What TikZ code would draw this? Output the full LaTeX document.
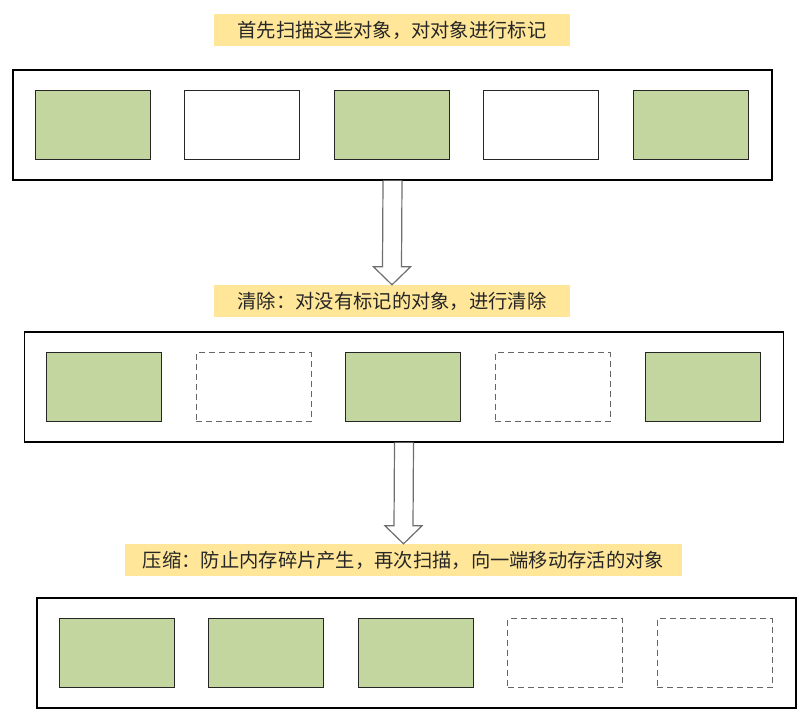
\documentclass[tikz,border=0pt]{standalone}
\usepackage{fontspec}
\newfontfamily\cjk{Noto Sans CJK SC}
\usepackage{xcolor}
\usetikzlibrary{positioning, calc}
\definecolor{tagyellow}{HTML}{FFE699}
\definecolor{livegreen}{HTML}{C4D6A0}
\definecolor{arrowgray}{HTML}{6E6E6E}
\tikzset{
  tag/.style={rectangle, fill=tagyellow, inner sep=0pt, minimum height=32pt,
    text=black!85, font=\cjk\fontsize{19.3}{20}\selectfont},
  frame/.style={rectangle, draw=black, line width=1.3pt, fill=white,
    minimum width=759pt, minimum height=110pt},
  objbox/.style={rectangle, draw=black!85, line width=0.9pt,
    minimum width=115pt, minimum height=69pt, inner sep=0pt},
  live/.style={objbox, fill=livegreen},
  unmarked/.style={objbox, fill=white},
  freed/.style={objbox, draw=black!60, line width=1pt, dash pattern=on 6pt off 4pt},
  hollow/.style={draw=arrowgray, line width=1.2pt, fill=white, line join=miter}
}
% hollow block arrow from the bottom of #1 to the top of #2
\newcommand{\fatarrow}[2]{%
  \draw[hollow] ($(#1.south)+(-9.5,0)$) -- ($(#2.north)+(-9.5,-18)$)
    -- ($(#2.north)+(-18.5,-18)$) -- (#2.north) -- ($(#2.north)+(18.5,-18)$)
    -- ($(#2.north)+(9.5,-18)$) -- ($(#1.south)+(9.5,0)$);}

\begin{document}
\begin{tikzpicture}[x=1pt, y=-1pt, node distance=33.6pt]
  \useasboundingbox (0,0) rectangle (810,726);

  % step 1: mark
  \node[tag, minimum width=356pt] (t1) at (392,30) {首先扫描这些对象，对对象进行标记};
  \node[frame] (f1) at (392.5,125) {};
  \node[live, right=22.5pt of f1.west] (a1) {};
  \node[unmarked, right=of a1] (a2) {};
  \node[live, right=of a2] (a3) {};
  \node[unmarked, right=of a3] (a4) {};
  \node[live, right=of a4] (a5) {};

  % step 2: sweep
  \node[tag, minimum width=356pt] (t2) at (392,301) {清除：对没有标记的对象，进行清除};
  \node[frame] (f2) at (404,387) {};
  \node[live, right=22.5pt of f2.west] (b1) {};
  \node[freed, right=of b1] (b2) {};
  \node[live, right=of b2] (b3) {};
  \node[freed, right=of b3] (b4) {};
  \node[live, right=of b4] (b5) {};

  % step 3: compact
  \node[tag, minimum width=557pt] (t3) at (403.5,560) {压缩：防止内存碎片产生，再次扫描，向一端移动存活的对象};
  \node[frame] (f3) at (416.5,653) {};
  \node[live, right=22.5pt of f3.west] (c1) {};
  \node[live, right=of c1] (c2) {};
  \node[live, right=of c2] (c3) {};
  \node[freed, right=of c3] (c4) {};
  \node[freed, right=of c4] (c5) {};

  \fatarrow{f1}{t2}
  \fatarrow{f2}{t3}
\end{tikzpicture}
\end{document}
